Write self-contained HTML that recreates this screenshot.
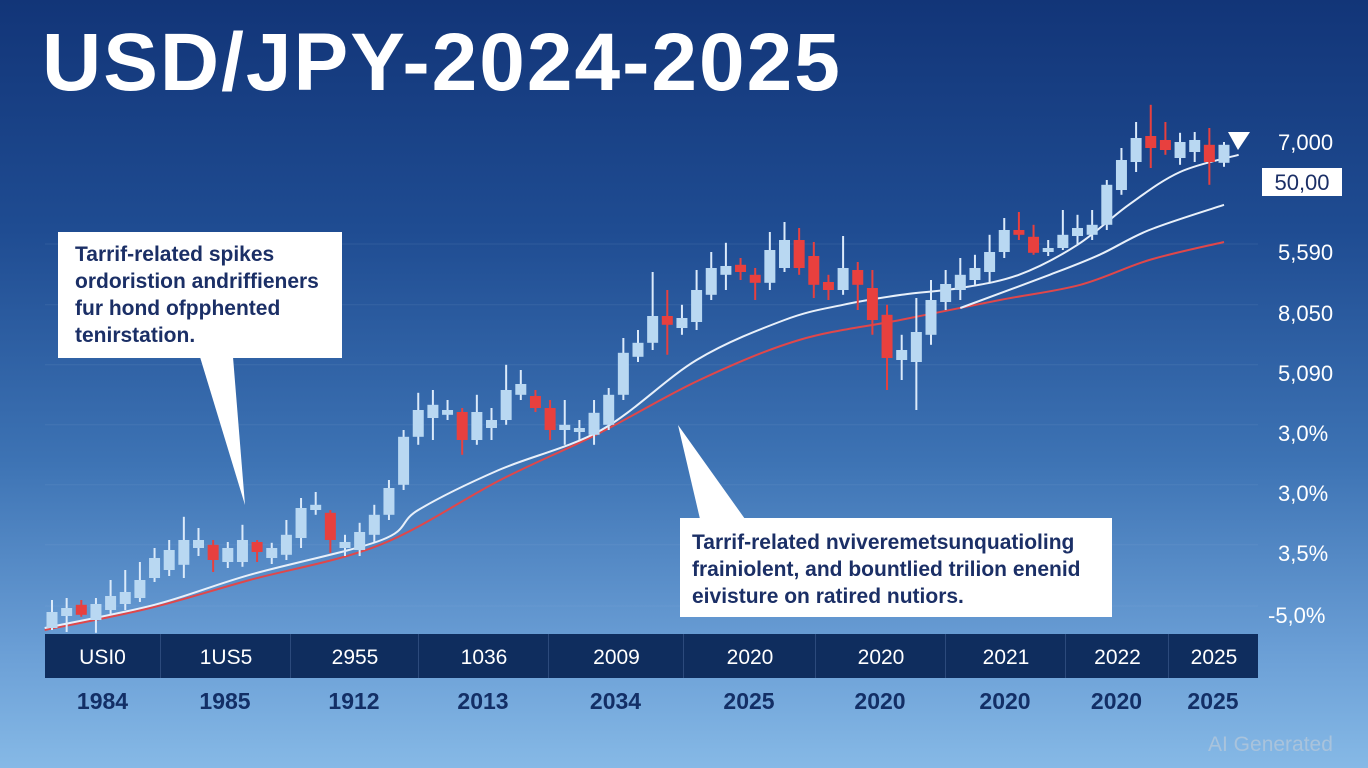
<!DOCTYPE html>
<html><head><meta charset="utf-8">
<style>
html,body{margin:0;padding:0}
body{width:1368px;height:768px;overflow:hidden;position:relative;font-family:"Liberation Sans",sans-serif;
background:linear-gradient(180deg,#123578 0%,#1f4c92 30%,#3d73b4 60%,#6b9fd6 85%,#86b9e6 100%);}
.title{position:absolute;left:42px;top:18px;font-size:82px;font-weight:bold;color:#fff;letter-spacing:2px;line-height:90px;white-space:nowrap}
.callout{position:absolute;background:#fff;color:#1b2f66;}
.ax{position:absolute;color:#fff;font-size:22px;white-space:nowrap}
.band{position:absolute;left:45px;top:634px;width:1213px;height:44px;background:#0f2d5e}
.bl{position:absolute;top:0;height:44px;line-height:48px;color:#fff;font-size:21px;text-align:center}
.yr{position:absolute;top:688px;font-size:23px;font-weight:bold;color:#132f66;text-align:center}
</style></head>
<body>
<div class="title">USD/JPY-2024-2025</div>
<svg id="chart" width="1368" height="768" style="position:absolute;left:0;top:0"></svg>

<div class="callout" style="left:58px;top:232px;width:284px;height:126px;">
<div style="position:absolute;left:17px;top:9px;font-size:21px;font-weight:bold;line-height:27px;white-space:nowrap">Tarrif-related spikes<br>ordoristion andriffieners<br>fur hond ofpphented<br>tenirstation.</div></div>
<div class="callout" style="left:680px;top:518px;width:432px;height:99px;">
<div style="position:absolute;left:12px;top:11px;font-size:21px;font-weight:bold;line-height:27px;white-space:nowrap">Tarrif-related nviveremetsunquatioling<br>frainiolent, and bountlied trilion enenid<br>eivisture on ratired nutiors.</div></div>

<div class="ax" style="left:1278px;top:130px">7,000</div>
<div style="position:absolute;left:1262px;top:168px;width:80px;height:28px;background:#fff;color:#1b2f66;font-size:22px;line-height:29px;text-align:center">50,00</div>
<div class="ax" style="left:1278px;top:240px">5,590</div>
<div class="ax" style="left:1278px;top:301px">8,050</div>
<div class="ax" style="left:1278px;top:361px">5,090</div>
<div class="ax" style="left:1278px;top:421px">3,0%</div>
<div class="ax" style="left:1278px;top:481px">3,0%</div>
<div class="ax" style="left:1278px;top:541px">3,5%</div>
<div class="ax" style="left:1268px;top:603px">-5,0%</div>

<div class="band" id="band"></div>
<div id="years"></div>
<div style="position:absolute;left:1208px;top:733px;font-size:21px;color:#a9c3dc">AI Generated</div>

<script>
const opens=[103,106,108.8,105,107.5,109,110.5,115.5,117.5,118.8,123,123.8,119.5,119.5,124.5,120.5,121.3,125.5,132.5,131.8,123,122.5,126.3,131.3,138.8,150.8,155.5,156.3,157,150,153,155,161.3,161,158,152.5,152,151.3,153.8,161.3,170.8,174.3,181,178,179.5,186.3,191.3,193.8,191.3,189.3,193,200,196,189.5,187.5,192.5,188,181.3,170,169.5,176.3,184.5,187.5,190,192,197,202.5,200.8,197,198,201,201.3,203.8,212.5,219.5,226,225,220.5,222,223.8,219.3];
const closes=[107,108,106.3,109,111,112,115,120.5,122.5,125,125,120,123,125,122,123,126.3,133,133.8,125,124.5,127,131.3,138,150.8,157.5,158.8,157.5,150,157,155,162.5,164,158,152.5,153.8,153,156.8,161.3,171.8,174.3,181,178.8,180.5,187.5,193,193.5,192,189.3,197.5,200,193,188.8,187.5,193,188.8,180,170.5,172.5,177,185,189,191.3,193,197,202.5,201.3,196.8,198,201.3,203,203.8,213.8,220,225.5,223,222.5,224.5,225,219.5,223.8];
const highs=[110,110.5,110,110.5,115,117.5,119.5,123,125,130.8,128,125,124.5,128.8,125,124.3,130,135.5,137,132.5,126.3,129.3,133.8,140,152.5,161.8,162.5,160,158,161.3,158,168.8,167.5,162.5,160,160,155,160,163,175.5,177.5,192,187.5,183.8,192.5,197,199.3,195.5,193,202,204.5,203,199.5,191.3,201,194.5,192.5,183.8,176.3,185.5,190,192.5,195.5,196.3,201.3,205.5,207,203.8,200,207.5,206.3,207.5,215,223,229.5,233.8,229.5,226.8,227,228,224.5];
const lows=[102.5,102,105.8,101.8,106.3,107.5,109.5,114.5,116,115.5,121,117,118,118.3,119.5,119,120,123,131.3,121.8,121,121,124.5,130,137.5,148.8,150,155,146.3,148.8,150,153.8,160,157,150,148.8,150,148.8,152.5,160,169.5,172.5,171.3,176.3,177.5,185,187.5,190,185,187.5,192,191.3,185.5,185,186.3,182.5,176.3,162.5,165,157.5,173.8,182.5,185,188.8,189.5,195.5,200,196.3,196,197.5,198.8,200,202.5,211.3,217,218,221.3,218.8,219.5,213.8,218.3];
const ma1Idx=[-0.5,7,13.5,22.5,25,30.5,37.5,44,50,54,58,62,66,70,73.5,77,81];
const ma1Val=[103,108.8,116.3,125,132.5,142.5,152.5,170,180,183.8,186.3,188,191.3,198.8,208.8,217,221.3];
const ma2Idx=[-0.5,6.7,13.5,22.4,30.6,37.4,44.2,51,57.9,64.7,70.2,74.9,80];
const ma2Val=[102.5,108,115,123.8,140,151.8,165,175,180,185,188.8,195,199.5];
const ma3Idx=[62,68.1,71.5,74.9,80];
const ma3Val=[183,191.3,196.3,202.5,208.8];
const bandLabels=["USI0","1US5","2955","1036","2009","2020","2020","2021","2022","2025"];
const yearLabels=["1984","1985","1912","2013","2034","2025","2020","2020","2020","2025"];
const bandEdges=[45,160,290,418,548,683,815,945,1065,1168,1258];
const gridVals=[199,183.8,168.8,153.8,138.8,123.8,108.5];

const NS="http://www.w3.org/2000/svg";
const svg=document.getElementById('chart');
const xS=i=>52+i*(1224-52)/80;
const yS=p=>1040-4*p;
function mk(t,a){const e=document.createElementNS(NS,t);for(const k in a)e.setAttribute(k,a[k]);svg.appendChild(e);return e;}
gridVals.forEach((v,i)=>{
  const g=mk('line',{x1:45,x2:1258,y1:yS(v),y2:yS(v),stroke:'#9bbbe0','stroke-opacity':0.12,'stroke-width':1});
  
  
});
function smooth(idx,val){
  const pts=idx.map((d,i)=>[xS(d),yS(val[i])]);
  let s='M'+pts[0][0]+','+pts[0][1];
  for(let i=0;i<pts.length-1;i++){
    const p0=pts[Math.max(0,i-1)],p1=pts[i],p2=pts[i+1],p3=pts[Math.min(pts.length-1,i+2)];
    const c1=[p1[0]+(p2[0]-p0[0])/6,p1[1]+(p2[1]-p0[1])/6],c2=[p2[0]-(p3[0]-p1[0])/6,p2[1]-(p3[1]-p1[1])/6];
    s+=' C'+c1+' '+c2+' '+p2;
  }
  return s;
}
let l=mk('path',{d:smooth(ma2Idx,ma2Val),fill:'none',stroke:'#e0474a','stroke-width':2});


l=mk('path',{d:smooth(ma3Idx,ma3Val),fill:'none',stroke:'#e8f0fa','stroke-width':2});


l=mk('path',{d:smooth(ma1Idx,ma1Val),fill:'none',stroke:'#e8f0fa','stroke-width':2});


opens.forEach((o,i)=>{
  const c=closes[i],up=c>=o,col=up?'#b9d8f2':'#e8403e',x=xS(i);
  const w=mk('line',{x1:x,x2:x,y1:yS(highs[i]),y2:yS(lows[i]),stroke:up?'#dbeafa':'#e8403e','stroke-width':2});
  
  
  const top=yS(Math.max(o,c)),h=Math.max(3,Math.abs(yS(o)-yS(c)));
  const b=mk('rect',{x:x-5.5,y:top,width:11,height:h,fill:col});
  
  
});
let p=mk('polygon',{points:'200,357 233,357 245,505',fill:'#fff'});


p=mk('polygon',{points:'678,425 700,519 745,519',fill:'#fff'});


p=mk('polygon',{points:'1228,132 1250,132 1238,150',fill:'#fff'});



const band=document.getElementById('band'),years=document.getElementById('years');
bandLabels.forEach((t,i)=>{
  const L=bandEdges[i],R=bandEdges[i+1];
  const d=document.createElement('div');d.className='bl';
  d.style.left=(L-45)+'px';d.style.width=(R-L)+'px';d.textContent=t;
  if(i>0)d.style.borderLeft='1px solid #2c4a7c';
  
  
  band.appendChild(d);
  const y=document.createElement('div');y.className='yr';
  y.style.left=L+'px';y.style.width=(R-L)+'px';y.textContent=yearLabels[i];
  
  
  years.appendChild(y);
});
</script>
</body></html>
